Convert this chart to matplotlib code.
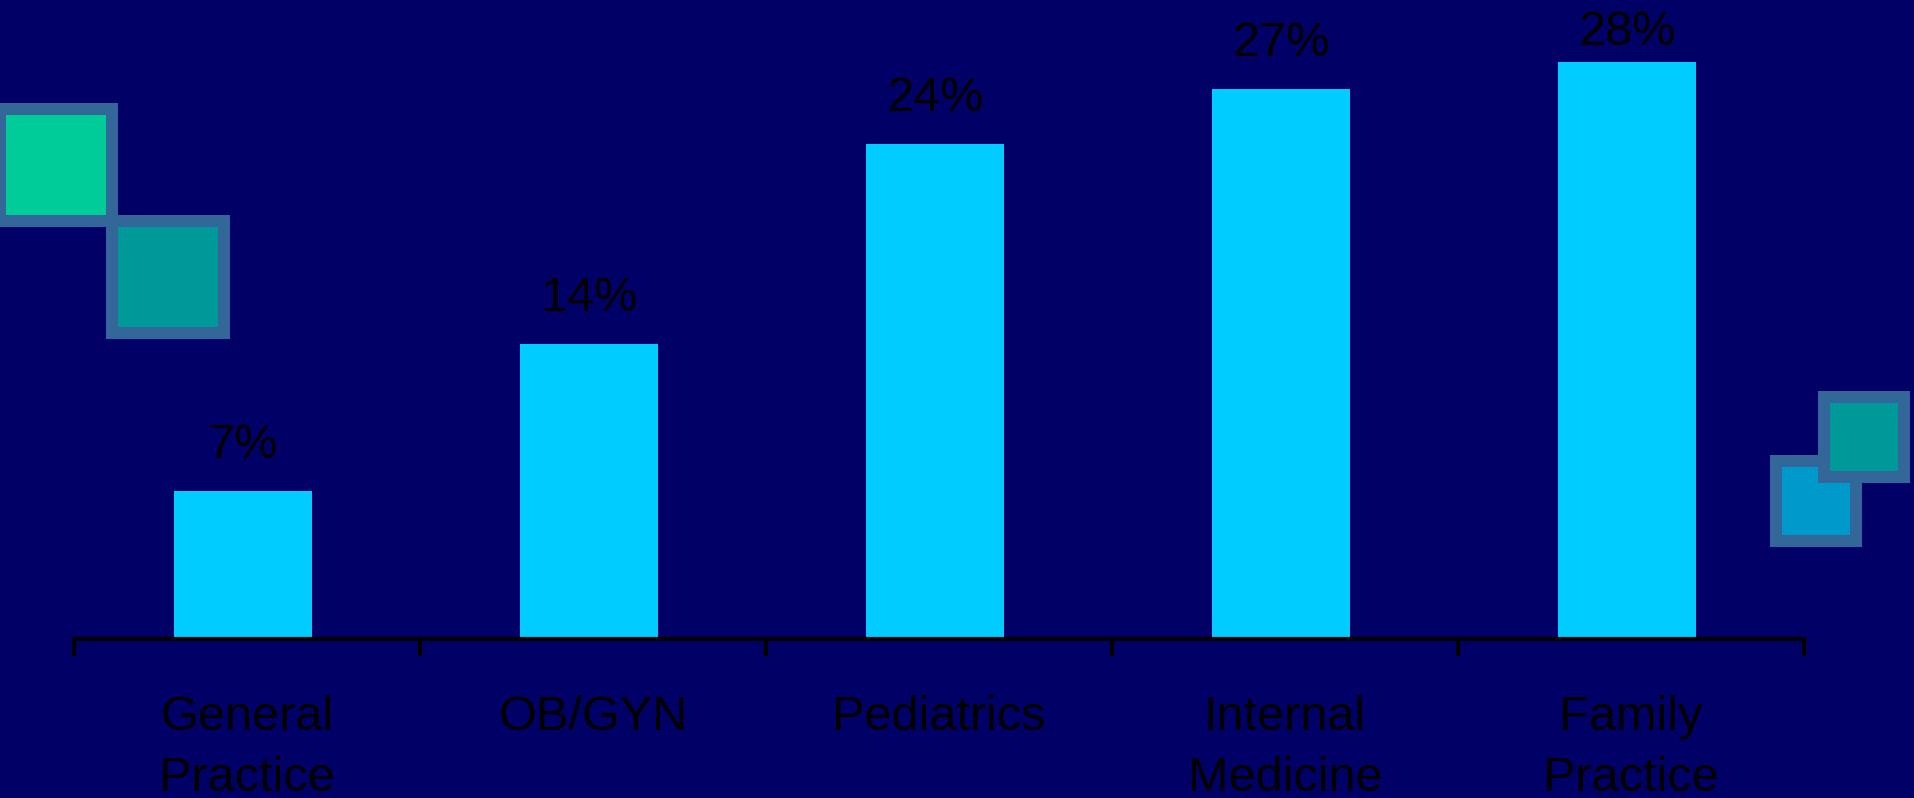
import matplotlib
matplotlib.use("Agg")
import matplotlib.pyplot as plt
from matplotlib.patches import Rectangle

plt.rcParams['font.family'] = ['Liberation Sans', 'DejaVu Sans']

# データ (棒の高さは図から読み取った値)
categories = ["General\nPractice", "OB/GYN", "Pediatrics", "Internal\nMedicine", "Family\nPractice"]
values = [7.2, 14.3, 24.0, 26.7, 28.0]
labels = ["7%", "14%", "24%", "27%", "28%"]

BG = "#000066"
BAR = "#00CCFF"
EDGE = "#336699"

W, H = 1915, 798
fig = plt.figure(figsize=(W / 100, H / 100), dpi=100, facecolor=BG)


def deco(x, y, size, color, border=12):
    # 飾りの四角 (ピクセル座標, 左上基準)
    fig.patches.append(Rectangle((x / W, 1 - (y + size) / H), size / W, size / H,
                                 transform=fig.transFigure, facecolor=EDGE, edgecolor="none"))
    inner = size - 2 * border
    fig.patches.append(Rectangle(((x + border) / W, 1 - (y + border + inner) / H), inner / W, inner / H,
                                 transform=fig.transFigure, facecolor=color, edgecolor="none"))


deco(-6, 103, 124, "#00CC99")
deco(106, 215, 124, "#009999")
deco(1770, 455, 92, "#0099CC")
deco(1818, 391, 92, "#009999")

YMAX = 31
ax = fig.add_axes([74 / W, (H - 639) / H, (1804 - 74) / W, 639 / H])
ax.set_facecolor("none")
x = list(range(len(categories)))
bx = [i - 0.012 for i in x]
bars = ax.bar(bx, values, width=0.4, color=BAR)
ax.set_xlim(-0.5, len(categories) - 0.5)
ax.set_ylim(0, YMAX)

# ラベル位置: 棒の上 33px, ただし上端からはみ出さないようにする
px = 639 / YMAX
for b, lab in zip(bars, labels):
    y = min(b.get_height() + 33 / px, (639 - 45) / px)
    ax.text(b.get_x() + b.get_width() / 2, y, lab,
            ha="center", va="baseline", fontsize=35, color="black")

for s in ["top", "right", "left"]:
    ax.spines[s].set_visible(False)
ax.spines["bottom"].set_color("black")
ax.spines["bottom"].set_linewidth(3)
ax.set_yticks([])
ax.set_xticks(x)
ax.set_xticklabels(categories, fontsize=35, color="black", linespacing=1.48)
ax.tick_params(axis="x", which="major", length=0, pad=40)
ax.set_xticks([i - 0.5 for i in range(len(categories) + 1)], minor=True)
ax.tick_params(axis="x", which="minor", length=12, width=3, color="black", direction="out")

fig.savefig("out.png", dpi=100, facecolor=BG)
